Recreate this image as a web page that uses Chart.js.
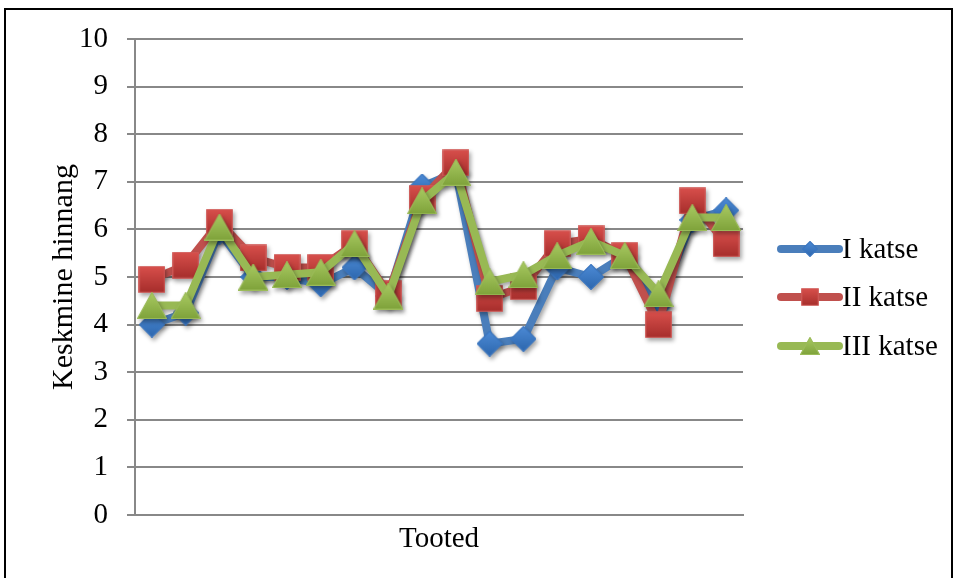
<!DOCTYPE html>
<html>
<head>
<meta charset="utf-8">
<style>
  html, body { margin: 0; padding: 0; background: #ffffff; }
  #wrap { position: relative; width: 955px; height: 578px; }
</style>
<script src="https://cdn.jsdelivr.net/npm/chart.js@4.4.1/dist/chart.umd.min.js"></script>
</head>
<body>
<div id="wrap"><canvas id="chart" width="955" height="578"></canvas></div>
<script>
// Average scores per product, three test rounds
const products = ['', '', '', '', '', '', '', '', '', '', '', '', '', '', '', '', '', ''];
const seriesNames = ['I katse', 'II katse', 'III katse'];
const round1 = [4.0, 4.25, 5.95, 5.0, 5.0, 4.85, 5.2, 4.6, 6.9, 7.2, 3.6, 3.7, 5.2, 5.0, 5.45, 4.4, 6.2, 6.4];
const round2 = [4.95, 5.25, 6.15, 5.4, 5.2, 5.2, 5.7, 4.65, 6.65, 7.4, 4.55, 4.8, 5.7, 5.8, 5.45, 4.0, 6.6, 5.7];
const round3 = [4.4, 4.4, 6.05, 5.0, 5.05, 5.1, 5.7, 4.6, 6.6, 7.2, 4.9, 5.05, 5.45, 5.75, 5.45, 4.65, 6.25, 6.25];
const yTicks = [0, 1, 2, 3, 4, 5, 6, 7, 8, 9, 10];

const FONT = '"Liberation Serif", "Times New Roman", serif';

// Gradient-filled marker sprites
function makeMarker(kind, size, top, bottom, edge) {
  const c = document.createElement('canvas');
  const w = size, h = kind === 'triangle' ? Math.round(size * 0.9) : size;
  c.width = w; c.height = h;
  const g = c.getContext('2d');
  const grad = g.createLinearGradient(0, 0, 0, h);
  grad.addColorStop(0, top);
  grad.addColorStop(1, bottom);
  g.fillStyle = grad;
  g.strokeStyle = edge;
  g.lineWidth = 1.2;
  g.beginPath();
  if (kind === 'diamond') {
    g.moveTo(w / 2, 0.5); g.lineTo(w - 0.5, h / 2); g.lineTo(w / 2, h - 0.5); g.lineTo(0.5, h / 2);
  } else if (kind === 'square') {
    g.rect(0.75, 0.75, w - 1.5, h - 1.5);
  } else {
    g.moveTo(w / 2, 0.5); g.lineTo(w - 0.5, h - 0.5); g.lineTo(0.5, h - 0.5);
  }
  g.closePath();
  g.fill();
  g.stroke();
  return c;
}

const markers = [
  makeMarker('diamond', 26, '#4d8bd6', '#2c66ad', '#3b76c0'),
  makeMarker('square', 27, '#d9504c', '#a52d2b', '#cf5a57'),
  makeMarker('triangle', 30, '#a9ca62', '#7ea23a', '#9bbb59')
];
const legendMarkers = [
  makeMarker('diamond', 16, '#4d8bd6', '#2c66ad', '#3b76c0'),
  makeMarker('square', 18, '#d9504c', '#a52d2b', '#cf5a57'),
  makeMarker('triangle', 20, '#a9ca62', '#7ea23a', '#9bbb59')
];
const lineColors = ['#4a7ebb', '#c0504d', '#98b954'];

// Soft drop shadow under each series
const shadowPlugin = {
  id: 'seriesShadow',
  beforeDatasetDraw(chart) {
    const ctx = chart.ctx;
    ctx.save();
    ctx.shadowColor = 'rgba(0,0,0,0.35)';
    ctx.shadowBlur = 4;
    ctx.shadowOffsetX = 2;
    ctx.shadowOffsetY = 3;
  },
  afterDatasetDraw(chart) {
    chart.ctx.restore();
  }
};

// Outer frame and series key on the right
const framePlugin = {
  id: 'frameAndKey',
  afterDraw(chart) {
    const ctx = chart.ctx;
    ctx.save();
    ctx.strokeStyle = '#000000';
    ctx.lineWidth = 2;
    ctx.strokeRect(5, 9, 947, 600);

    const rows = [249, 297, 346];
    chart.data.datasets.forEach((ds, i) => {
      const y = rows[i];
      ctx.strokeStyle = lineColors[i];
      ctx.lineWidth = 8;
      ctx.lineCap = 'round';
      ctx.beginPath();
      ctx.moveTo(781, y);
      ctx.lineTo(839, y);
      ctx.stroke();
      const m = legendMarkers[i];
      ctx.drawImage(m, 810 - m.width / 2, y - m.height / 2);
      ctx.fillStyle = '#000000';
      ctx.font = '29px ' + FONT;
      ctx.textAlign = 'left';
      ctx.textBaseline = 'middle';
      ctx.fillText(ds.label, 842, y + 1);
    });
    ctx.restore();
  }
};

function series(i, values, order) {
  return {
    label: seriesNames[i],
    data: values,
    borderColor: lineColors[i],
    borderWidth: 8,
    borderJoinStyle: 'round',
    borderCapStyle: 'round',
    tension: 0,
    pointStyle: markers[i],
    pointRadius: 13,
    pointHoverRadius: 13,
    order: order,
    clip: false
  };
}

new Chart(document.getElementById('chart'), {
  type: 'line',
  data: {
    labels: products,
    datasets: [series(0, round1, 3), series(1, round2, 2), series(2, round3, 1)]
  },
  plugins: [shadowPlugin, framePlugin],
  options: {
    responsive: false,
    animation: false,
    devicePixelRatio: 1,
    layout: { padding: { left: 0, top: 39, right: 212, bottom: 0 } },
    plugins: { legend: { display: false }, tooltip: { enabled: false } },
    scales: {
      x: {
        offset: true,
        grid: { display: false },
        border: { display: true, color: '#888888', width: 2 },
        ticks: { display: false },
        title: {
          display: true,
          text: 'Tooted',
          color: '#000000',
          font: { family: FONT, size: 29 },
          padding: { top: 0, bottom: 21 }
        },
        afterFit(scale) { scale.height = 63; }
      },
      y: {
        min: 0,
        max: 10,
        afterBuildTicks(scale) { scale.ticks = yTicks.map(v => ({ value: v })); },
        grid: { color: '#888888', lineWidth: 2, tickLength: 8, drawTicks: true },
        border: { display: true, color: '#888888', width: 2 },
        ticks: {
          color: '#000000',
          font: { family: FONT, size: 29 },
          padding: 19
        },
        title: {
          display: true,
          text: 'Keskmine hinnang',
          color: '#000000',
          font: { family: FONT, size: 30 },
          padding: { top: 46, bottom: 0 }
        },
        afterFit(scale) { scale.width = 135; }
      }
    }
  }
});
</script>
</body>
</html>
